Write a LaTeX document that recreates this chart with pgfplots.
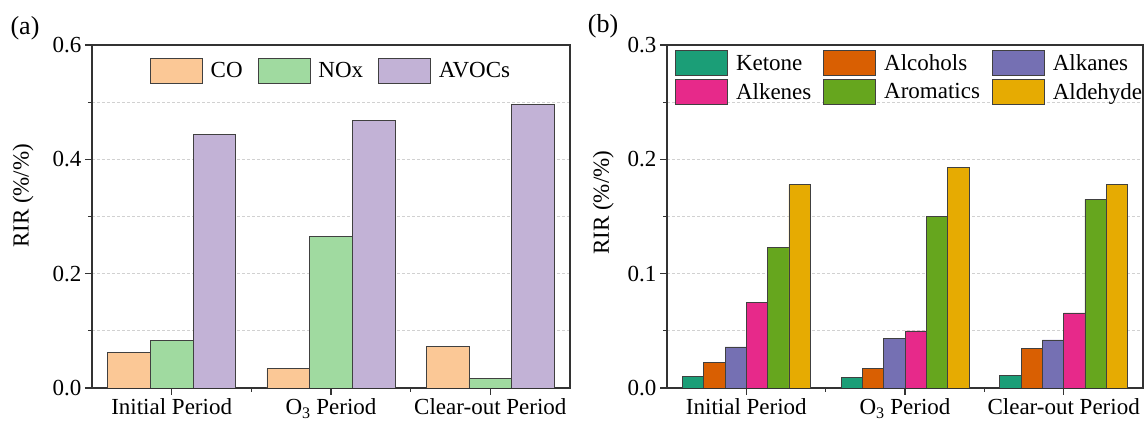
\documentclass[border=0pt]{standalone}
\usepackage{fontspec}
\setmainfont{Liberation Serif}
\usepackage{pgfplots}
\pgfplotsset{compat=1.18}
\definecolor{cCO}{HTML}{FBC896}
\definecolor{cNOx}{HTML}{A0DAA0}
\definecolor{cAV}{HTML}{C2B2D6}
\definecolor{cKet}{HTML}{1B9E77}
\definecolor{cAlc}{HTML}{D95F02}
\definecolor{cAlk}{HTML}{7570B3}
\definecolor{cAlke}{HTML}{E7298A}
\definecolor{cAro}{HTML}{66A61E}
\definecolor{cAld}{HTML}{E6AB02}
\newcommand\fs{\fontsize{23}{27}\selectfont}
\pgfplotsset{
  myax/.style={
    scale only axis, height=343pt, ymin=0,
    xmin=-0.5, xmax=2.5, xtick={0,1,2}, minor xtick={0.5,1.5},
    xticklabels={Initial Period, O\textsubscript{3} Period, Clear-out Period},
    tick align=outside, xtick pos=left, ytick pos=left,
    major tick length=7pt, minor tick length=4pt,
    every tick/.style={black!80, line width=1.2pt},
    axis line style={black!80, line width=1.3pt},
    tick label style={font=\fs},
    label style={font=\fs},
    /pgf/number format/fixed, /pgf/number format/fixed zerofill,
    /pgf/number format/precision=1, /pgf/number format/assume math mode=true,
    ymajorgrids, yminorgrids,
    major grid style={dash pattern=on 3pt off 2pt, black!18, line width=0.7pt},
    minor grid style={dash pattern=on 3pt off 2pt, black!18, line width=0.7pt},
    ybar=0pt,
    legend cell align=left,
    legend image code/.code={\draw[##1] (0pt,-12.5pt) rectangle (52pt,12.5pt);},
  },
  bs/.style={fill=#1, draw=black!75, line width=0.8pt},
}
\begin{document}
\begin{tikzpicture}
\begin{axis}[myax, at={(92pt,37pt)}, anchor=south west, width=478pt,
  ymax=0.6, ytick={0,0.2,0.4,0.6}, minor ytick={0.1,0.3,0.5},
  bar width=42.7pt,
  ylabel={RIR (\%/\%)},
  ylabel style={at={(axis description cs:-0.144,0.56)}, anchor=center},
  legend columns=-1,
  legend style={at={(axis description cs:0.5,0.963)}, anchor=north, draw=none, fill=none,
    inner sep=0pt, font=\fs, column sep=6pt, nodes={inner sep=2pt},
    /tikz/every even column/.append style={column sep=13pt}}]
\addplot[bs=cCO] coordinates {(0,0.0625) (1,0.034) (2,0.072)};
\addplot[bs=cNOx] coordinates {(0,0.083) (1,0.265) (2,0.0165)};
\addplot[bs=cAV] coordinates {(0,0.444) (1,0.468) (2,0.496)};
\legend{CO, NOx, AVOCs}
\end{axis}
\begin{axis}[myax, at={(667pt,37pt)}, anchor=south west, width=476pt,
  ymax=0.3, ytick={0,0.1,0.2,0.3}, minor ytick={0.05,0.15,0.25},
  bar width=21.3pt,
  ylabel={RIR (\%/\%)},
  ylabel style={at={(axis description cs:-0.134,0.54)}, anchor=center},
  legend columns=3,
  legend style={at={(axis description cs:0.0168,0.985)}, anchor=north west, draw=none, fill=none,
    inner sep=0pt, font=\fs, column sep=6pt, row sep=3pt, nodes={inner sep=2pt},
    /tikz/every even column/.append style={column sep=10pt}}]
\addplot[bs=cKet] coordinates {(0,0.0102) (1,0.0093) (2,0.0111)};
\addplot[bs=cAlc] coordinates {(0,0.0227) (1,0.0169) (2,0.0347)};
\addplot[bs=cAlk] coordinates {(0,0.0359) (1,0.0437) (2,0.042)};
\addplot[bs=cAlke] coordinates {(0,0.0752) (1,0.0499) (2,0.0656)};
\addplot[bs=cAro] coordinates {(0,0.1227) (1,0.150) (2,0.165)};
\addplot[bs=cAld] coordinates {(0,0.1778) (1,0.193) (2,0.1784)};
\legend{Ketone, Alcohols, Alkanes, Alkenes, Aromatics, Aldehyde}
\end{axis}
\node[font=\fontsize{26}{30}\selectfont] at (25pt,397pt) {(a)};
\node[font=\fontsize{26}{30}\selectfont] at (603pt,399pt) {(b)};
\pgfresetboundingbox
\path[use as bounding box] (0,0) rectangle (1146pt,425pt);
\end{tikzpicture}
\end{document}
